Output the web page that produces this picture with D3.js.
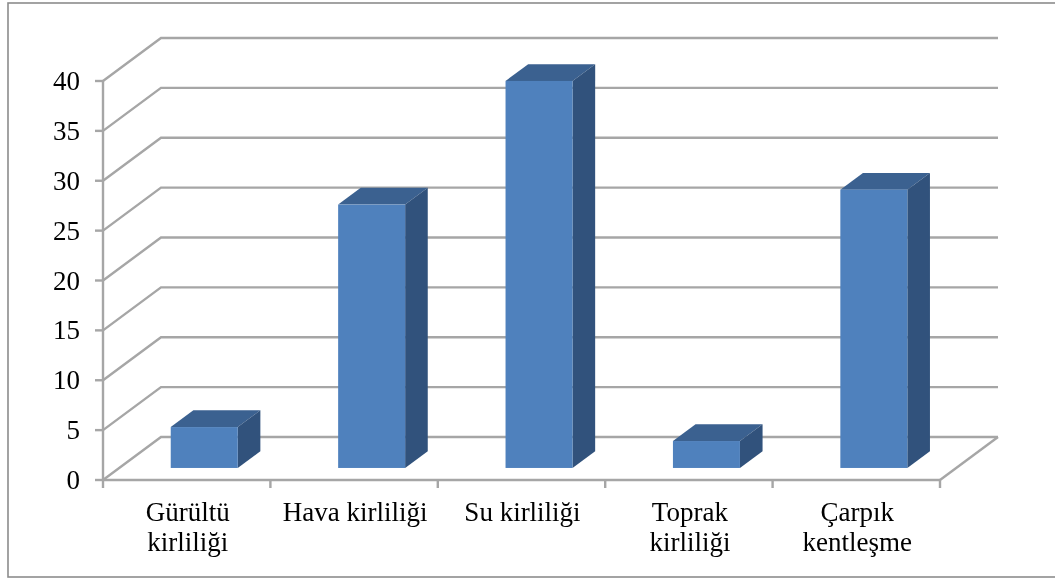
<!DOCTYPE html>
<html><head><meta charset="utf-8">
<script src="https://cdn.jsdelivr.net/npm/d3@7"></script>
<style>html,body{margin:0;padding:0;background:#fff}svg{display:block;filter:blur(0.45px)}</style></head>
<body><svg id="c" width="1055" height="578"></svg>
<script>
const categories = [["Gürültü","kirliliği"],["Hava kirliliği"],["Su kirliliği"],["Toprak","kirliliği"],["Çarpık","kentleşme"]];
const values = [4.1, 26.4, 38.8, 2.7, 27.9];
const yTicks = [0,5,10,15,20,25,30,35,40];

const svg = d3.select("#c");
const gridCol = "#a6a6a6";
const font = "'Liberation Serif', serif";
const x = d3.scaleBand().domain(d3.range(categories.length)).range([103,940]);
const y = d3.scaleLinear().domain([0,40]).range([480,81]);
const depth = {dx:58, dy:-43};
const front = 0.28, back = 0.67;
const barW = 67, barInset = 51.5;

svg.append("rect").attr("x",8).attr("y",3).attr("width",1060).attr("height",574)
  .attr("fill","#fff").attr("stroke","#8c8c8c").attr("stroke-width",1.6);

const grid = svg.append("g").attr("fill","none").attr("stroke",gridCol).attr("stroke-width",2.4);
yTicks.forEach(t=>{
  grid.append("path").attr("d",d3.line()([
    [x.range()[0],y(t)],
    [x.range()[0]+depth.dx,y(t)+depth.dy],
    [x.range()[1]+depth.dx,y(t)+depth.dy]
  ]));
  grid.append("line").attr("x1",x.range()[0]-8).attr("x2",x.range()[0])
    .attr("y1",y(t)).attr("y2",y(t));
  svg.append("text").attr("x",80).attr("y",y(t)+9).attr("text-anchor","end")
    .attr("font-family",font).attr("font-size",27).attr("fill","#000").text(t);
});
grid.append("line").attr("x1",x.range()[0]).attr("x2",x.range()[0]).attr("y1",y(40)).attr("y2",y(0));
grid.append("line").attr("x1",x.range()[0]).attr("x2",x.range()[1]).attr("y1",y(0)).attr("y2",y(0));
grid.append("line").attr("x1",x.range()[1]).attr("y1",y(0)).attr("x2",x.range()[1]+depth.dx).attr("y2",y(0)+depth.dy);
d3.range(categories.length+1).forEach(i=>{
  const px = x.range()[0]+i*x.step();
  grid.append("line").attr("x1",px).attr("x2",px).attr("y1",y(0)).attr("y2",y(0)+8);
});

const unit = y(0)-y(1);
const bars = svg.append("g");
values.forEach((v,i)=>{
  const x0 = x(i)+barInset+front*depth.dx, x1 = x0+barW;
  const base = y(0)+front*depth.dy, top = base-v*unit;
  const ddx = (back-front)*depth.dx, ddy = (back-front)*depth.dy;
  bars.append("polygon").attr("fill","#3b6190")
    .attr("points",[[x0,top],[x1,top],[x1+ddx,top+ddy],[x0+ddx,top+ddy]].join(" "));
  bars.append("polygon").attr("fill","#31527c")
    .attr("points",[[x1,top],[x1+ddx,top+ddy],[x1+ddx,base+ddy],[x1,base]].join(" "));
  bars.append("rect").attr("x",x0).attr("y",top).attr("width",barW).attr("height",base-top).attr("fill","#4f81bd");
});

categories.forEach((lines,i)=>{
  lines.forEach((s,j)=>{
    svg.append("text").attr("x",x(i)+x.bandwidth()/2+1).attr("y",521+j*30)
      .attr("text-anchor","middle").attr("font-family",font).attr("font-size",27).attr("fill","#000").text(s);
  });
});
</script></body></html>
